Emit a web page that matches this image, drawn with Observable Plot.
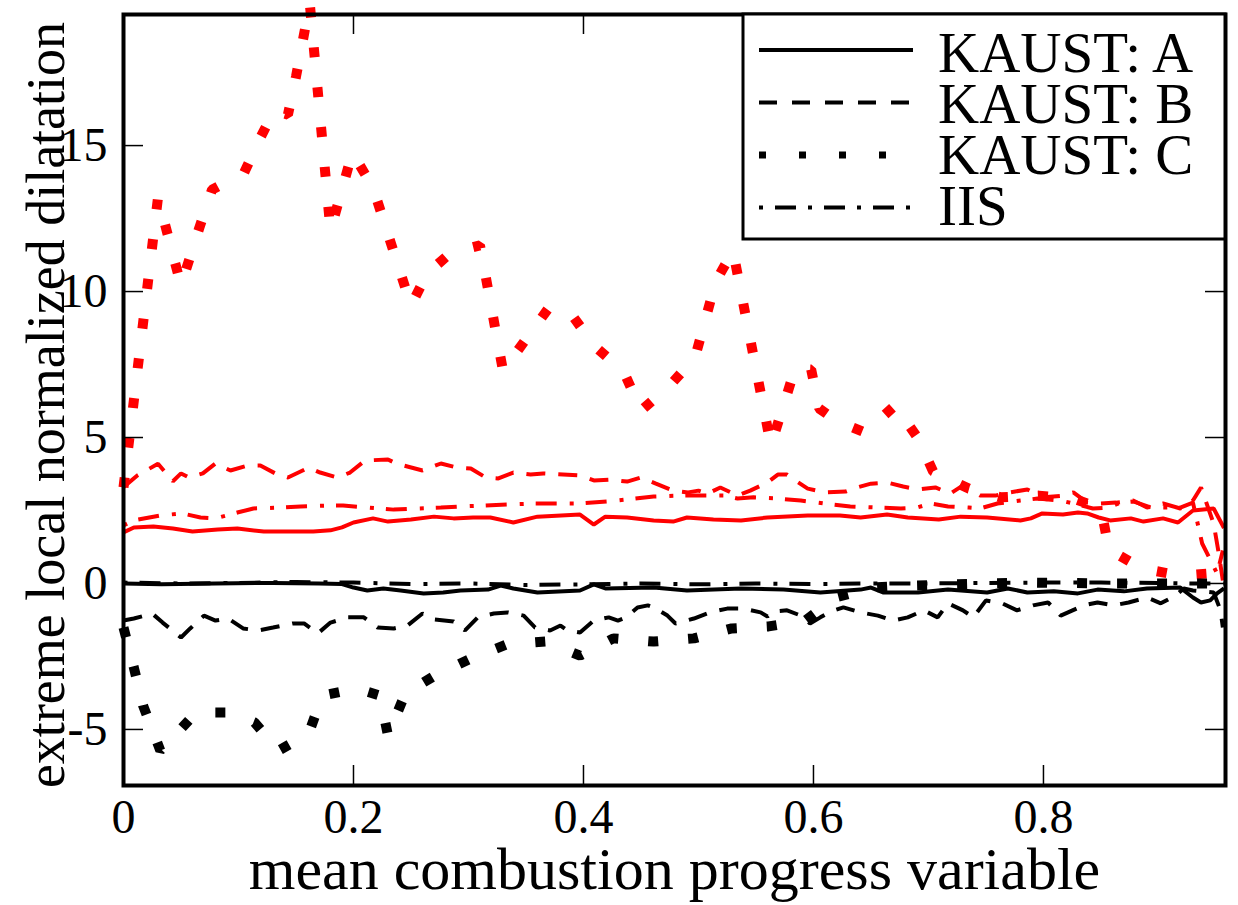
<!DOCTYPE html>
<html><head><meta charset="utf-8">
<script src="https://cdn.jsdelivr.net/npm/d3@7"></script>
<script src="https://cdn.jsdelivr.net/npm/@observablehq/plot@0.6"></script>
<style>
html,body{margin:0;padding:0;background:#fff;}
#chart{position:relative;width:1238px;height:905px;}
#legend{position:absolute;left:0;top:0;pointer-events:none;}
</style></head><body><div id="chart"></div>
<script>
// ---- tick values & labels ----
const xTicks = [0, 0.2, 0.4, 0.6, 0.8];
const yTicks = [-5, 0, 5, 10, 15];
const xTitle = "mean combustion progress variable";
const yTitle = "extreme local normalized dilatation";
const legendLabels = ["KAUST: A", "KAUST: B", "KAUST: C", "IIS"];

// ---- series (x = mean progress variable, y = extreme normalized dilatation) ----
// maxima (red)
const kaustA_max = [[0,1.75],[0.009,1.92],[0.026,1.95],[0.043,1.88],[0.06,1.78],[0.082,1.85],[0.099,1.88],[0.122,1.78],[0.143,1.78],[0.165,1.78],[0.18,1.82],[0.19,1.92],[0.2,2.09],[0.217,2.23],[0.23,2.12],[0.25,2.19],[0.27,2.29],[0.287,2.23],[0.304,2.26],[0.319,2.26],[0.339,2.09],[0.36,2.29],[0.397,2.36],[0.409,2.02],[0.419,2.29],[0.438,2.26],[0.461,2.16],[0.478,2.12],[0.49,2.26],[0.513,2.19],[0.537,2.16],[0.56,2.26],[0.595,2.33],[0.623,2.33],[0.641,2.26],[0.664,2.36],[0.682,2.26],[0.709,2.19],[0.728,2.29],[0.751,2.26],[0.78,2.16],[0.789,2.23],[0.799,2.4],[0.817,2.36],[0.83,2.43],[0.838,2.4],[0.848,2.26],[0.858,2.16],[0.876,2.23],[0.887,2.12],[0.904,2.23],[0.917,2.09],[0.93,2.5],[0.948,2.57],[0.957,1.9]];
const kaustB_max = [[0,3.3],[0.012,3.7],[0.03,4.1],[0.043,3.5],[0.05,3.77],[0.057,3.63],[0.069,3.77],[0.08,4.11],[0.093,3.87],[0.108,4.04],[0.119,4.04],[0.132,3.77],[0.143,3.63],[0.161,3.97],[0.171,3.8],[0.186,3.63],[0.197,3.8],[0.21,4.21],[0.23,4.25],[0.237,4.11],[0.26,3.87],[0.276,4.11],[0.29,3.97],[0.302,3.94],[0.315,3.63],[0.326,3.6],[0.339,3.8],[0.354,3.73],[0.365,3.77],[0.397,3.7],[0.409,3.53],[0.423,3.56],[0.438,3.49],[0.45,3.63],[0.463,3.42],[0.478,3.18],[0.491,3.12],[0.5,3.18],[0.508,3.08],[0.519,3.29],[0.534,3.01],[0.545,3.18],[0.56,3.46],[0.569,3.73],[0.577,3.73],[0.584,3.53],[0.595,3.25],[0.61,3.12],[0.628,3.15],[0.638,3.29],[0.65,3.42],[0.664,3.46],[0.678,3.32],[0.691,3.22],[0.706,3.29],[0.719,3.08],[0.73,3.36],[0.745,3.01],[0.758,3.01],[0.771,3.12],[0.786,3.22],[0.8,2.95],[0.817,3.01],[0.826,3.12],[0.838,2.77],[0.85,2.74],[0.863,2.77],[0.878,2.84],[0.89,2.6],[0.904,2.74],[0.919,2.57],[0.93,2.84],[0.937,3.29],[0.948,2.05],[0.952,1.13],[0.956,0.1]];
const kaustC_max = [[0,3.29],[0.03,13.22],[0.05,10.21],[0.066,12.19],[0.077,13.49],[0.105,14.08],[0.119,15.27],[0.131,16.2],[0.143,16.06],[0.15,17.36],[0.162,19.86],[0.18,12.09],[0.199,14.76],[0.217,13.56],[0.25,9.52],[0.264,10.62],[0.285,11.34],[0.31,11.58],[0.33,7.29],[0.37,9.45],[0.391,9.14],[0.41,8.12],[0.435,7.26],[0.45,5.92],[0.475,6.78],[0.497,7.74],[0.515,10.34],[0.53,11.4],[0.563,4.73],[0.584,7.36],[0.598,7.33],[0.605,5.99],[0.621,5.55],[0.645,5.17],[0.671,6.1],[0.691,4.97],[0.704,3.84],[0.735,3.25],[0.763,2.95],[0.796,3.01],[0.826,2.91],[0.85,2.57],[0.857,1.16],[0.886,0.51],[0.919,0.27],[0.956,0.38]];
const iis_max = [[0,1.99],[0.009,2.16],[0.032,2.33],[0.051,2.4],[0.067,2.26],[0.08,2.23],[0.099,2.43],[0.113,2.57],[0.137,2.6],[0.154,2.64],[0.177,2.67],[0.191,2.67],[0.212,2.6],[0.235,2.53],[0.256,2.57],[0.276,2.6],[0.293,2.64],[0.313,2.67],[0.337,2.71],[0.357,2.74],[0.374,2.74],[0.397,2.74],[0.421,2.81],[0.438,2.88],[0.461,2.98],[0.484,3.01],[0.499,3.01],[0.522,3.01],[0.534,2.91],[0.548,2.95],[0.569,2.91],[0.589,2.84],[0.609,2.74],[0.632,2.64],[0.656,2.6],[0.676,2.57],[0.69,2.6],[0.702,2.74],[0.717,2.64],[0.735,2.6],[0.745,2.57],[0.76,2.74],[0.78,2.84],[0.795,2.91],[0.815,2.84],[0.826,2.74],[0.843,2.57],[0.856,2.6],[0.867,2.77],[0.878,2.81],[0.896,2.57],[0.904,2.6],[0.919,2.6],[0.93,2.77],[0.938,1.37],[0.951,0.34],[0.956,1.13]];
// minima (black)
const kaustA_min = [[0,0],[0.033,-0.03],[0.08,0],[0.13,0.02],[0.17,0],[0.19,-0.02],[0.2,-0.14],[0.212,-0.24],[0.226,-0.17],[0.241,-0.24],[0.261,-0.34],[0.278,-0.31],[0.293,-0.24],[0.317,-0.21],[0.328,-0.07],[0.339,-0.17],[0.36,-0.31],[0.397,-0.24],[0.409,-0.03],[0.419,-0.17],[0.461,-0.14],[0.49,-0.24],[0.537,-0.17],[0.574,-0.21],[0.606,-0.31],[0.641,-0.21],[0.65,-0.14],[0.661,-0.31],[0.691,-0.31],[0.717,-0.21],[0.751,-0.31],[0.769,-0.17],[0.786,-0.31],[0.809,-0.27],[0.83,-0.34],[0.847,-0.21],[0.87,-0.27],[0.89,-0.17],[0.919,-0.14],[0.93,-0.48],[0.937,-0.65],[0.945,-0.58],[0.951,-0.34],[0.957,-0.17]];
const kaustB_min = [[0,-1.27],[0.009,-1.2],[0.025,-1.03],[0.034,-1.34],[0.05,-1.85],[0.058,-1.54],[0.07,-1.1],[0.08,-1.27],[0.091,-1.2],[0.104,-1.54],[0.117,-1.61],[0.13,-1.51],[0.147,-1.37],[0.157,-1.37],[0.169,-1.71],[0.18,-1.34],[0.195,-1.16],[0.209,-1.16],[0.221,-1.51],[0.235,-1.54],[0.247,-1.44],[0.26,-1.03],[0.27,-1.23],[0.287,-1.3],[0.297,-1.61],[0.308,-1.16],[0.322,-1.03],[0.334,-0.99],[0.348,-1.1],[0.358,-1.51],[0.371,-1.61],[0.38,-1.44],[0.386,-1.61],[0.397,-1.68],[0.409,-1.27],[0.422,-1.16],[0.43,-1.27],[0.437,-1.16],[0.447,-0.82],[0.456,-0.75],[0.461,-0.82],[0.473,-1.1],[0.48,-1.37],[0.496,-1.2],[0.51,-0.99],[0.525,-0.86],[0.539,-0.86],[0.554,-0.99],[0.56,-1.13],[0.565,-0.96],[0.577,-0.92],[0.589,-1.1],[0.597,-1.37],[0.606,-1.16],[0.615,-0.96],[0.626,-0.82],[0.641,-0.99],[0.656,-1.1],[0.669,-1.27],[0.682,-1.16],[0.696,-0.92],[0.708,-1.16],[0.717,-0.68],[0.73,-0.92],[0.739,-1.16],[0.75,-0.58],[0.764,-0.68],[0.777,-0.92],[0.791,-0.75],[0.804,-0.65],[0.815,-1.1],[0.835,-0.75],[0.847,-0.65],[0.861,-0.75],[0.874,-0.65],[0.89,-0.48],[0.902,-0.68],[0.915,-0.41],[0.922,-0.17],[0.93,-0.24],[0.948,-0.31],[0.954,-0.92],[0.956,-1.51]];
const kaustC_min = [[0,-1.51],[0.009,-2.88],[0.017,-4.18],[0.032,-5.72],[0.044,-5.24],[0.063,-4.42],[0.092,-4.42],[0.114,-4.76],[0.135,-5.72],[0.161,-5.14],[0.173,-3.84],[0.203,-3.6],[0.223,-3.84],[0.23,-5.21],[0.245,-3.77],[0.271,-3.15],[0.302,-2.57],[0.333,-2.09],[0.367,-1.99],[0.397,-2.47],[0.426,-1.88],[0.461,-1.99],[0.496,-1.88],[0.529,-1.54],[0.561,-1.47],[0.593,-1.27],[0.619,-0.48],[0.652,-0.14],[0.686,-0.07],[0.754,0],[0.789,0.03],[0.857,0],[0.925,0],[0.956,0]];
const iis_min = [[0,0.03],[0.05,0],[0.1,0.02],[0.15,0.05],[0.2,0.03],[0.25,-0.02],[0.3,0],[0.35,-0.05],[0.4,-0.03],[0.45,0],[0.5,-0.03],[0.55,0],[0.6,-0.02],[0.65,0],[0.7,0],[0.75,0.02],[0.8,0.03],[0.85,0.03],[0.9,0.02],[0.93,0],[0.957,0]];

// ---- styles ----
const RED = "#ff0000", BLACK = "#000000";
const dashFor = {A: null, B: "19 13", C: "10 30", IIS: "4 12 21 13"};
const widthFor = {A: 4, B: 4, C: 10, IIS: 4};

const series = [
  {key: "A", bound: "max", data: kaustA_max},
  {key: "A", bound: "min", data: kaustA_min},
  {key: "B", bound: "max", data: kaustB_max},
  {key: "B", bound: "min", data: kaustB_min},
  {key: "C", bound: "max", data: kaustC_max},
  {key: "C", bound: "min", data: kaustC_min},
  {key: "IIS", bound: "max", data: iis_max},
  {key: "IIS", bound: "min", data: iis_min}
];

const lineMarks = series.map(s => Plot.line(s.data, {
  x: d => d[0], y: d => d[1],
  stroke: s.bound === "max" ? RED : BLACK,
  strokeWidth: widthFor[s.key],
  strokeDasharray: dashFor[s.key] ?? undefined,
  strokeLinecap: "butt",
  strokeLinejoin: "miter",
  curve: "linear"
}));

const fmt = d => String(d);
const FONT = "'Liberation Serif', 'Times New Roman', serif";

// layout
const W = 1238, H = 905, mL = 123, mR = 13, mT = 14, mB = 120;
const xDom = [0, 0.9583], yDom = [-6.92, 19.49];
const TICK_PX = 20;
const tkX = TICK_PX * (xDom[1] - xDom[0]) / (W - mL - mR);
const tkY = TICK_PX * (yDom[1] - yDom[0]) / (H - mT - mB);

const chart = Plot.plot({
  width: W, height: H,
  marginLeft: mL, marginRight: mR, marginTop: mT, marginBottom: mB,
  x: {domain: xDom},
  y: {domain: yDom},
  style: {fontFamily: FONT, fontSize: "48px", color: "black", background: "white", overflow: "visible"},
  marks: [
    ...lineMarks,
    // inward ticks on all four sides
    Plot.ruleX(xTicks, {x: d => d, y1: yDom[0], y2: yDom[0] + tkY, stroke: "black", strokeWidth: 1.5}),
    Plot.ruleX(xTicks, {x: d => d, y1: yDom[1], y2: yDom[1] - tkY, stroke: "black", strokeWidth: 1.5}),
    Plot.ruleY(yTicks, {y: d => d, x1: xDom[0], x2: xDom[0] + tkX, stroke: "black", strokeWidth: 1.5}),
    Plot.ruleY(yTicks, {y: d => d, x1: xDom[1], x2: xDom[1] - tkX, stroke: "black", strokeWidth: 1.5}),
    // tick labels
    Plot.axisX(xTicks, {anchor: "bottom", tickSize: 0, tickPadding: 13, tickFormat: fmt, label: null, fontSize: 48}),
    Plot.axisY(yTicks, {anchor: "left", tickSize: 0, tickPadding: 16, tickFormat: fmt, label: null, fontSize: 48}),
    Plot.frame({stroke: "black", strokeWidth: 4}),
    // axis titles
    Plot.text([xTitle], {text: d => d, frameAnchor: "bottom", textAnchor: "middle", dy: 103, lineAnchor: "bottom", fontSize: 60, fill: "black"}),
    Plot.text([yTitle], {text: d => d, frameAnchor: "left", textAnchor: "middle", rotate: -90, dx: -60, dy: 5, lineAnchor: "bottom", fontSize: 54, fill: "black"})
  ]
});
document.getElementById("chart").appendChild(chart);

// ---- legend (inside the frame, top right) ----
const lg = d3.select("#chart").append("svg").attr("id", "legend")
  .attr("width", W).attr("height", H);
lg.append("rect").attr("x", 743).attr("y", 14).attr("width", 482).attr("height", 225)
  .attr("fill", "white").attr("stroke", "black").attr("stroke-width", 3);
const legendDash = {A: null, B: "18 15", C: "7 33", IIS: "4 12 21 12"};
const legendWidth = {A: 4, B: 4, C: 7, IIS: 4};
const legendKeys = ["A", "B", "C", "IIS"];
legendKeys.forEach((k, i) => {
  const ly = 50 + i * 52.5;
  const line = lg.append("line").attr("x1", 759).attr("x2", 913).attr("y1", ly).attr("y2", ly)
    .attr("stroke", "black").attr("stroke-width", legendWidth[k]).attr("stroke-linecap", "butt");
  if (legendDash[k]) line.attr("stroke-dasharray", legendDash[k]);
  lg.append("text").attr("x", 938).attr("y", 72 + i * 51)
    .attr("font-family", FONT).attr("font-size", 57)
    .attr("fill", "black").text(legendLabels[i]);
});
</script></body></html>
